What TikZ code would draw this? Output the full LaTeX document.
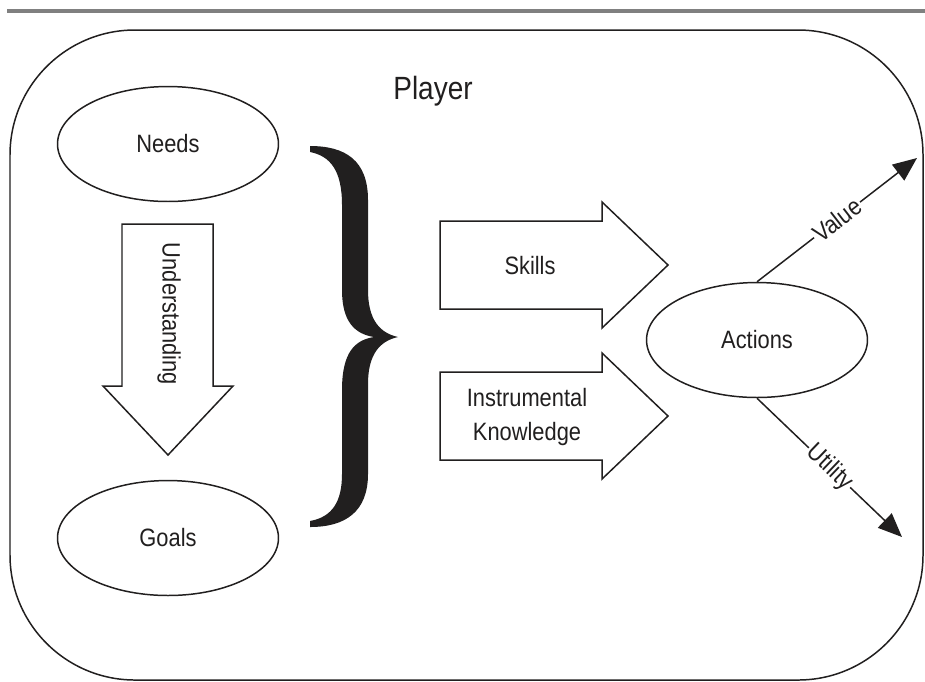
\documentclass[tikz,border=0pt]{standalone}
\usepackage{fontspec}
\setmainfont{Liberation Sans}[FakeStretch=0.87]
\usepackage{tikz}
\usetikzlibrary{
	arrows.meta,
	shapes.geometric
}
\tikzstyle{every picture}+=[>={Triangle[length=13.6pt,width=11.3pt]}]
\definecolor{rulegray}{rgb}{0.5, 0.5, 0.5}
\definecolor{ink}{rgb}{0.13, 0.12, 0.12}

\begin{document}
\begin{tikzpicture}[x=0.02cm, y=-0.02cm, line width=0.85pt, ink,
	bubble/.style={draw, ellipse, minimum width=4.42cm, minimum height=2.3cm, font=\fontsize{14.3}{17}\selectfont},
	lbl/.style={font=\fontsize{14.3}{19.3}\selectfont, align=center, inner sep=1pt}]

	\useasboundingbox (0,0) rectangle (925,681);

	% Frame
		\draw[rulegray, line width=2.7pt] (7,11) -- (925,11);
		\draw[rounded corners=2.5cm] (10,30) rectangle (923,680);
		\node[anchor=base, font=\fontsize{18.3}{22}\selectfont] (player) at (433,99) {Player};

	% Left column
		\node[bubble] (needs) at (168,144) {Needs};
		\node[bubble] (goals) at (168,538) {Goals};
		\draw (122,224) -- (213,224) -- (213,386) -- (233,386) -- (168,455)
			-- (103,386) -- (122,386) -- cycle;
		\node[lbl, rotate=-90] (understanding) at (169,314) {Understanding};

	% Brace
		\fill (310,146) .. controls (345,146) and (368,160) .. (368,200)
			-- (368,290) .. controls (368,320) and (380,333) .. (398,337)
			.. controls (380,341) and (368,354) .. (368,384)
			-- (368,474) .. controls (368,512) and (345,527) .. (310,527)
			-- (310,521) .. controls (332,517) and (342,502) .. (342,474)
			-- (342,390) .. controls (342,352) and (355,340) .. (374,337)
			.. controls (355,334) and (342,322) .. (342,290)
			-- (342,205) .. controls (342,170) and (330,156) .. (310,152)
			-- cycle;

	% Block arrows, #1 is the centre height
		\newcommand\blockright[1] {
			\draw (440,#1-44) -- (602,#1-44) -- (602,#1-63) -- (668,#1)
				-- (602,#1+63) -- (602,#1+44) -- (440,#1+44) -- cycle;
		}
		\blockright{265}
		\blockright{416}
		\node[lbl] (skills) at (530,266) {Skills};
		\node[lbl] (knowledge) at (527,417) {Instrumental\\Knowledge};

	% Outcomes
		\node[bubble] (actions) at (757,340) {Actions};
		\coordinate (valuetip) at (917,158);
		\coordinate (utilitytip) at (902,537);
		\draw[->] (actions.north) -- node[lbl, sloped, fill=white] (value) {Value} (valuetip);
		\draw[->] (actions.south) -- node[lbl, sloped, fill=white] (utility) {Utility} (utilitytip);
\end{tikzpicture}
\end{document}
